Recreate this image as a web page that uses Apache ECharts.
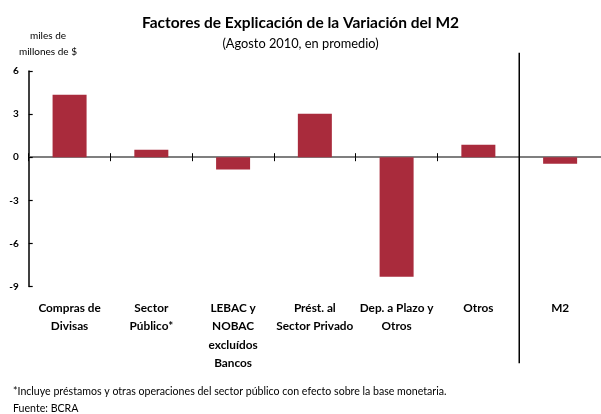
<!DOCTYPE html>
<html><head><meta charset="utf-8">
<script src="https://cdn.jsdelivr.net/npm/echarts@6/dist/echarts.min.js"></script>
<style>html,body{margin:0;padding:0;background:#fff}#c{width:601px;height:414px}</style>
</head><body><div id="c"></div>
<script>
const categories = ['Compras de\nDivisas','Sector\nPúblico*','LEBAC y\nNOBAC\nexcluídos\nBancos','Prést. al\nSector Privado','Dep. a Plazo y\nOtros','Otros','M2'];
const values = [4.35, 0.51, -0.86, 3.02, -8.33, 0.86, -0.45];
const yTicks = [-9, -6, -3, 0, 3, 6];
const titleText = 'Factores de Explicación de la Variación del M2';
const subtitleText = '(Agosto 2010, en promedio)';
const unitText = 'miles de\nmillones de $';
const footnote = '*Incluye préstamos y otras operaciones del sector público con efecto sobre la base monetaria.';
const source = 'Fuente: BCRA';

const FONT = 'Lato';
const chart = echarts.init(document.getElementById('c'), null, {renderer:'canvas'});
const baseX = {
  type:'category', data:categories, position:'bottom',
  axisLabel:{show:false, interval:0}, splitLine:{show:false}
};
chart.setOption({
  animation:false,
  textStyle:{fontFamily:FONT},
  title:[
    {text:titleText, left:'center', top:10, textStyle:{fontFamily:FONT, fontSize:15.5, fontWeight:'bold', color:'#000'}},
    {text:subtitleText, left:'center', top:32, textStyle:{fontFamily:FONT, fontSize:12.8, fontWeight:'normal', color:'#000'}},
    {text:unitText, left:43, top:23, textAlign:'center', textStyle:{fontFamily:FONT, fontSize:10, fontWeight:'normal', color:'#000', lineHeight:16, align:'center'}},
    {text:footnote, left:8, top:381, textStyle:{fontFamily:FONT, fontSize:10.6, fontWeight:'normal', color:'#000'}},
    {text:source, left:8, top:398, textStyle:{fontFamily:FONT, fontSize:10.6, fontWeight:'normal', color:'#000'}}
  ],
  grid:{left:28.7, top:71, bottom:127.5, right:-5.6, containLabel:false},
  xAxis:[
    Object.assign({}, baseX, {
      axisLine:{show:true, onZero:true, onZeroAxisIndex:0, lineStyle:{color:'#555', width:1.5}},
      axisTick:{show:true, inside:true, interval:0, length:4, lineStyle:{color:'#000', width:1}}
    }),
    Object.assign({}, baseX, {
      axisLine:{show:false, onZero:true, onZeroAxisIndex:0},
      axisTick:{show:true, inside:false, interval:0, length:4, lineStyle:{color:'#000', width:1}}
    }),
    Object.assign({}, baseX, {
      axisLine:{show:false, onZero:false},
      axisTick:{show:false},
      axisLabel:{show:true, interval:0, margin:12, color:'#000', fontFamily:FONT, fontSize:11.8, fontWeight:'bold', lineHeight:18.5, verticalAlign:'top'}
    })
  ],
  yAxis:{
    type:'value', min:yTicks[0], max:yTicks[yTicks.length-1], interval:3,
    axisLine:{show:true, lineStyle:{color:'#000', width:1.5}},
    axisTick:{show:true, inside:true, length:4, lineStyle:{color:'#000', width:1.2}},
    axisLabel:{color:'#000', fontFamily:FONT, fontSize:10, fontWeight:'bold', margin:10},
    splitLine:{show:false}
  },
  series:[{
    type:'bar', data:values, xAxisIndex:0, barWidth:34,
    itemStyle:{color:'#A92B3C'}
  }]
});
// divider between the last factor and M2
const cx5 = chart.convertToPixel({xAxisIndex:0}, categories[5]);
const cx6 = chart.convertToPixel({xAxisIndex:0}, categories[6]);
const dx = (cx5 + cx6) / 2;
chart.setOption({graphic:[{type:'line', shape:{x1:dx, y1:52.7, x2:dx, y2:363.3}, style:{stroke:'#000', lineWidth:1.5}, z:10}]});
</script></body></html>
